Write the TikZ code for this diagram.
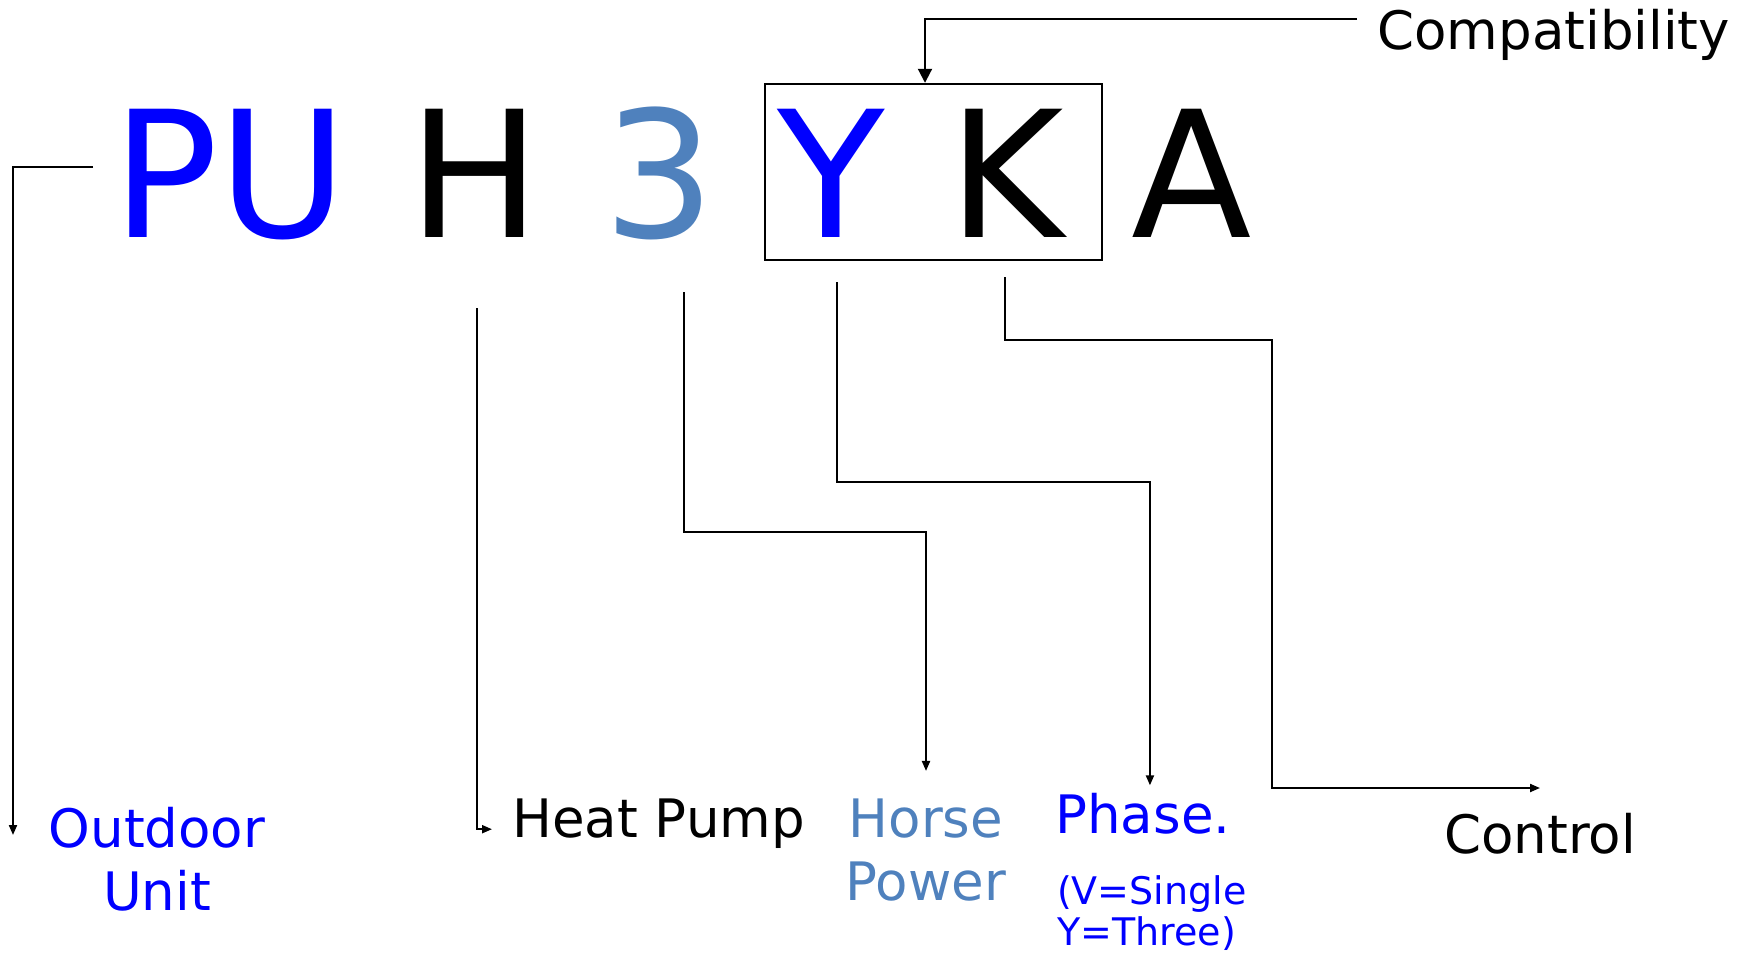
\documentclass[tikz,border=0pt]{standalone}
\usepackage{fontspec}
\setmainfont{DejaVu Sans}
\usepackage{tikz}
\usetikzlibrary{arrows.meta, positioning, calc}

\definecolor{codeblue}{RGB}{0,0,255}
\definecolor{hpblue}{RGB}{79,129,189}

\begin{document}
\begin{tikzpicture}[x=0.5pt, y=-0.5pt,
    bigletter/.style={anchor=base, font=\fontsize{88}{100}\selectfont},
    desc/.style={inner sep=8pt, font=\fontsize{26.5}{31.5}\selectfont},
    subnote/.style={font=\fontsize{19}{20.5}\selectfont},
    conn/.style={line width=1pt, -{Triangle[length=5pt,width=4pt]}},
    bigconn/.style={line width=1pt, -{Triangle[length=7pt,width=7pt]}}]
    \useasboundingbox (0,0) rectangle (1750,953);
    % ---- model code ----
    \foreach \t/\x/\c/\n in {PU/230/codeblue/pu, H/474.5/black/h, 3/659/hpblue/three,
                             Y/831/codeblue/y, K/1006.5/black/k, A/1191.5/black/a}
        \node[bigletter, text=\c] (\n) at (\x,237) {\t};
    \node[draw, line width=1.2pt, inner sep=0, minimum width=168.5pt,
          minimum height=88pt] (ykbox) at (933.5,172) {};
    % ---- meanings ----
    \node[desc, text=codeblue, align=center, anchor=base] (outdoor) at (157,910) {Outdoor\\Unit};
    \node[desc, anchor=base west] (heatpump) at (496,837) {Heat Pump};
    \node[desc, text=hpblue, align=center, anchor=base] (horsepower) at (926,900) {Horse\\Power};
    \node[desc, text=codeblue, anchor=base west] (phase) at (1039,833) {Phase.};
    \node[subnote, text=codeblue, align=left, anchor=base west] (phasenote) at (1050,945) {(V=Single\\Y=Three)};
    \node[desc, anchor=base west] (control) at (1428,853) {Control};
    \node[desc, anchor=base west] (compat) at (1361,49) {Compatibility};
    % ---- connectors ----
    \coordinate (puTap) at (93,167);
    \coordinate (outEnd) at (13,835);
    \coordinate (hTap) at (477,308);
    \coordinate (threeTap) at (684,292);
    \coordinate (yTap) at (837,282);
    \coordinate (kTap) at (1005,277);
    \coordinate (kBend) at (1272,340);
    \coordinate (kEnd) at (1540,788);
    \draw[conn] (puTap) -| (outEnd);
    \draw[conn] (hTap) |- ([xshift=-2pt,yshift=-3pt]heatpump.west);
    \draw[conn] (threeTap) -- (threeTap |- 0,532) -| ([yshift=5.5pt]horsepower.north);
    \draw[conn] (yTap) -- (yTap |- 0,482) -| ([xshift=3.5pt,yshift=-4.5pt]phase.north);
    \draw[conn] (kTap) |- (kBend) |- (kEnd);
    \draw[bigconn] ([xshift=-2pt,yshift=7.5pt]compat.west) -| ([xshift=-4.25pt]ykbox.north);
\end{tikzpicture}
\end{document}
